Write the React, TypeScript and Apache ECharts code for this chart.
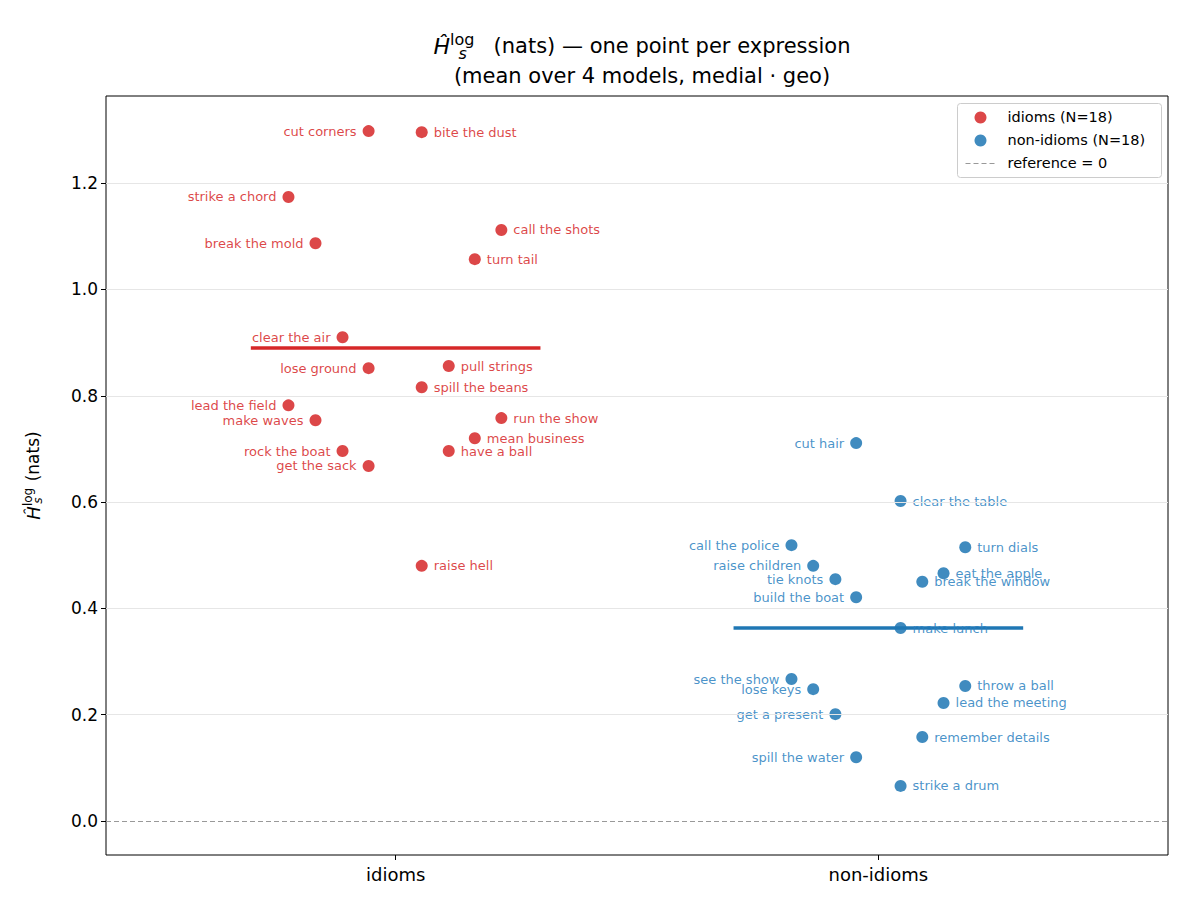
import * as echarts from "echarts";
import { useEffect, useRef } from "react";

// [xOffset, value, label]
const idioms: [number, number, string][] = [
  [-0.056, 1.298, "cut corners"],
  [0.054, 1.296, "bite the dust"],
  [-0.222, 1.174, "strike a chord"],
  [-0.166, 1.087, "break the mold"],
  [0.219, 1.112, "call the shots"],
  [0.164, 1.057, "turn tail"],
  [-0.11, 0.91, "clear the air"],
  [-0.056, 0.852, "lose ground"],
  [0.11, 0.856, "pull strings"],
  [0.054, 0.816, "spill the beans"],
  [-0.222, 0.782, "lead the field"],
  [-0.166, 0.754, "make waves"],
  [0.219, 0.758, "run the show"],
  [0.164, 0.72, "mean business"],
  [-0.11, 0.696, "rock the boat"],
  [0.11, 0.696, "have a ball"],
  [-0.056, 0.668, "get the sack"],
  [0.054, 0.48, "raise hell"],
];

const nonIdioms: [number, number, string][] = [
  [-0.046, 0.711, "cut hair"],
  [0.046, 0.602, "clear the table"],
  [-0.18, 0.519, "call the police"],
  [0.18, 0.515, "turn dials"],
  [-0.135, 0.48, "raise children"],
  [0.135, 0.466, "eat the apple"],
  [-0.089, 0.455, "tie knots"],
  [0.091, 0.45, "break the window"],
  [-0.046, 0.421, "build the boat"],
  [0.046, 0.363, "make lunch"],
  [-0.18, 0.267, "see the show"],
  [0.18, 0.254, "throw a ball"],
  [-0.135, 0.248, "lose keys"],
  [0.135, 0.222, "lead the meeting"],
  [-0.089, 0.201, "get a present"],
  [0.091, 0.158, "remember details"],
  [-0.046, 0.12, "spill the water"],
  [0.046, 0.066, "strike a drum"],
];

const yTicks = [0, 0.2, 0.4, 0.6, 0.8, 1.0, 1.2];
const idiomMean = 0.89;
const nonIdiomMean = 0.363;
const RED = "#d62728";
const BLUE = "#1f77b4";
const FONT = "DejaVu Sans";

function pts(list: [number, number, string][], base: number, color: string) {
  return list.map(([dx, v, name]) => ({
    value: [base + dx, v],
    name,
    label: {
      show: true,
      formatter: name,
      position: dx < 0 ? "left" : "right",
      color: color === RED ? "#d62728" : "#2a7fc0",
      fontSize: 13,
      fontFamily: FONT,
      distance: 6,
    },
  }));
}

const richMath = (base: number) => ({
  it: { fontSize: base + 1, fontStyle: "italic" as const, fontFamily: FONT },
  sup: { fontSize: base - 5, verticalAlign: "top" as const, padding: [0, 0, 10, 0] },
  sub: { fontSize: base - 5, fontStyle: "italic" as const, verticalAlign: "bottom" as const, padding: [10, 0, 0, -16] },
});

export default function App() {
  const ref = useRef<HTMLDivElement | null>(null);
  useEffect(() => {
    if (!ref.current) return;
    const chart = echarts.init(ref.current, null, { renderer: "svg" });
    const option: echarts.EChartsOption = {
      animation: false,
      textStyle: { fontFamily: FONT },
      title: {
        text: "{it|Ĥ}{sup|log}{sub|s}    (nats) — one point per expression\n(mean over 4 models, medial · geo)",
        left: 637,
        top: 26,
        textAlign: "center",
        textStyle: {
          fontSize: 21,
          fontWeight: "normal",
          color: "#000",
          lineHeight: 30,
          rich: richMath(21),
        },
      },
      grid: {
        left: 106,
        right: 22,
        top: 96,
        bottom: 55,
        show: true,
        borderColor: "#000",
        borderWidth: 1,
      },
      xAxis: {
        type: "value",
        min: -0.6,
        max: 1.6,
        splitLine: { show: false },
        axisLine: { show: false, onZero: false },
        axisTick: { show: true, customValues: [0, 1], length: 5, lineStyle: { color: "#000" } },
        axisLabel: {
          customValues: [0, 1],
          formatter: (v: number) => (v === 0 ? "idioms" : "non-idioms"),
          fontSize: 18,
          color: "#000",
          margin: 10,
        },
      },
      yAxis: {
        type: "value",
        min: -0.064,
        max: 1.364,
        splitLine: { show: false },
        axisLine: { show: false, onZero: false },
        axisTick: { show: true, customValues: yTicks, length: 5, lineStyle: { color: "#000" } },
        axisLabel: {
          customValues: yTicks,
          formatter: (v: number) => v.toFixed(1),
          fontSize: 17,
          color: "#000",
        },
        name: "{it|Ĥ}{sup|log}{sub|s}   (nats)",
        nameLocation: "middle",
        nameGap: 62,
        nameRotate: 90,
        nameTextStyle: {
          fontSize: 17,
          color: "#000",
          rich: richMath(17),
        },
      },
      series: [
        {
          type: "scatter",
          name: "idioms (N=18)",
          symbolSize: 12,
          itemStyle: { color: RED, opacity: 0.85 },
          data: pts(idioms, 0, RED),
          z: 3,
        },
        {
          type: "scatter",
          name: "non-idioms (N=18)",
          symbolSize: 12,
          itemStyle: { color: BLUE, opacity: 0.85 },
          data: pts(nonIdioms, 1, BLUE),
          z: 3,
        },
        {
          type: "line",
          name: "grid",
          silent: true,
          data: [],
          markLine: {
            silent: true,
            symbol: "none",
            label: { show: false },
            lineStyle: { color: "#e6e6e6", width: 1, type: "solid" },
            data: yTicks.slice(1).map((v) => ({ yAxis: v })),
          },
          z: 1,
        },
        {
          type: "line",
          name: "reference = 0",
          silent: true,
          data: [],
          markLine: {
            silent: true,
            symbol: "none",
            label: { show: false },
            lineStyle: { color: "#999", width: 1.2, type: [5, 3] },
            data: [{ yAxis: 0 }],
          },
        },
        {
          type: "line",
          silent: true,
          symbol: "none",
          lineStyle: { color: RED, width: 3.5 },
          data: [
            [-0.3, idiomMean],
            [0.3, idiomMean],
          ],
          z: 2,
        },
        {
          type: "line",
          silent: true,
          symbol: "none",
          lineStyle: { color: BLUE, width: 3.5 },
          data: [
            [0.7, nonIdiomMean],
            [1.3, nonIdiomMean],
          ],
          z: 2,
        },
      ],
      graphic: [
        {
          type: "group",
          left: 957,
          top: 103,
          children: [
            { type: "rect", shape: { x: 0, y: 0, width: 204, height: 74, r: 3 }, style: { fill: "#fff", stroke: "#ccc", lineWidth: 1 } },
            { type: "circle", shape: { cx: 23, cy: 14, r: 6 }, style: { fill: RED, opacity: 0.85 } },
            { type: "text", x: 50, y: 6, style: { text: "idioms (N=18)", fontSize: 14.5, fontFamily: FONT, fill: "#000" } },
            { type: "circle", shape: { cx: 23, cy: 37, r: 6 }, style: { fill: BLUE, opacity: 0.85 } },
            { type: "text", x: 50, y: 29, style: { text: "non-idioms (N=18)", fontSize: 14.5, fontFamily: FONT, fill: "#000" } },
            { type: "line", shape: { x1: 8, y1: 60, x2: 38, y2: 60 }, style: { stroke: "#999", lineWidth: 1.2, lineDash: [5, 3] } },
            { type: "text", x: 50, y: 52, style: { text: "reference = 0", fontSize: 14.5, fontFamily: FONT, fill: "#000" } },
          ],
        },
      ],
    };
    chart.setOption(option);
    return () => chart.dispose();
  }, []);
  return <div ref={ref} style={{ width: 1190, height: 910, margin: -8 }} />;
}
